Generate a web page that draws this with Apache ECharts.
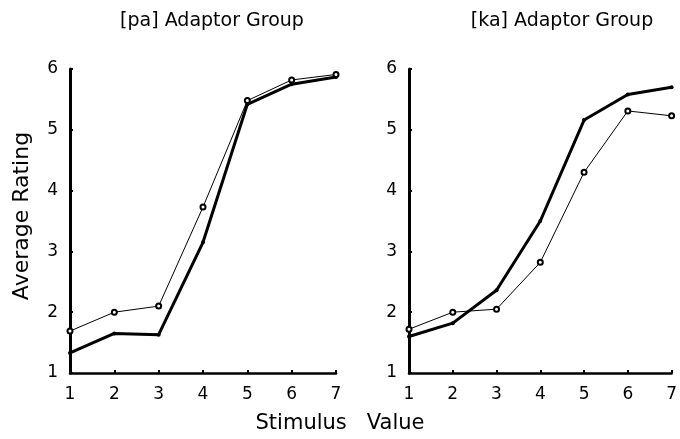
<!DOCTYPE html>
<html>
<head>
<meta charset="utf-8">
<script src="https://cdn.jsdelivr.net/npm/echarts@6/dist/echarts.min.js"></script>
<style>
  html, body { margin: 0; padding: 0; background: #fff; }
  #chart { width: 680px; height: 439px; }
</style>
</head>
<body>
<div id="chart"></div>
<script>
// stimulus values on the x axis
var stimulus = [1, 2, 3, 4, 5, 6, 7];
var yTicks = [1, 2, 3, 4, 5, 6];

// [pa] adaptor group
var paThick = [1.33, 1.65, 1.63, 3.15, 5.42, 5.75, 5.87];
var paThin = [1.69, 2.0, 2.1, 3.73, 5.48, 5.82, 5.91];

// [ka] adaptor group
var kaThick = [1.6, 1.82, 2.36, 3.5, 5.16, 5.58, 5.70];
var kaThin = [1.72, 2.0, 2.05, 2.82, 4.3, 5.31, 5.23];

function pairs(ys) {
    return stimulus.map(function (x, i) { return [x, ys[i]]; });
}

var fontFam = 'DejaVu Sans';
var myChart = echarts.init(document.getElementById('chart'));

function xAx(idx) {
    return {
        type: 'value', gridIndex: idx, min: 1, max: 7, interval: 1,
        axisLine: { lineStyle: { color: '#000', width: 2.5 } },
        axisTick: { show: true, length: 3, inside: true, lineStyle: { color: '#000', width: 2 } },
        axisLabel: { color: '#000', fontSize: 17, fontFamily: fontFam, margin: 13 },
        splitLine: { show: false }
    };
}
function yAx(idx) {
    return {
        type: 'value', gridIndex: idx, min: yTicks[0], max: yTicks[yTicks.length - 1], interval: 1,
        axisLine: { show: true, lineStyle: { color: '#000', width: 3 } },
        axisTick: { show: true, length: 3, inside: true, lineStyle: { color: '#000', width: 2 } },
        axisLabel: { color: '#000', fontSize: 17, fontFamily: fontFam, margin: 12 },
        splitLine: { show: false }
    };
}
function thick(idx, ys) {
    return {
        type: 'line', xAxisIndex: idx, yAxisIndex: idx, data: pairs(ys),
        symbol: 'circle', symbolSize: 4, z: 3,
        lineStyle: { color: '#000', width: 3 },
        itemStyle: { color: '#000' }
    };
}
function thin(idx, ys) {
    return {
        type: 'line', xAxisIndex: idx, yAxisIndex: idx, data: pairs(ys),
        symbol: 'emptyCircle', symbolSize: 5, z: 4,
        lineStyle: { color: '#000', width: 1 },
        itemStyle: { color: '#000', borderColor: '#000', borderWidth: 1 }
    };
}

var option = {
    animation: false,
    backgroundColor: '#fff',
    title: [
        { text: '[pa] Adaptor Group', left: 207, top: 7, textAlign: 'center',
          textStyle: { fontSize: 19, fontWeight: 'normal', color: '#000', fontFamily: fontFam } },
        { text: '[ka] Adaptor Group', left: 557, top: 7, textAlign: 'center',
          textStyle: { fontSize: 19, fontWeight: 'normal', color: '#000', fontFamily: fontFam } }
    ],
    grid: [
        { left: 70, top: 69, width: 266, height: 304 },
        { left: 409, top: 69, width: 268, height: 304 }
    ],
    xAxis: [xAx(0), xAx(1)],
    yAxis: [yAx(0), yAx(1)],
    series: [thin(0, paThin), thick(0, paThick), thin(1, kaThin), thick(1, kaThick)],
    graphic: [
        { type: 'text', x: 22, y: 216, rotation: Math.PI / 2,
          style: { text: 'Average Rating', fill: '#000', fontSize: 22, fontFamily: fontFam,
                   textAlign: 'center', textVerticalAlign: 'middle' } },
        { type: 'text', x: 340, y: 424,
          style: { text: 'Stimulus   Value', fill: '#000', fontSize: 21, fontFamily: fontFam,
                   textAlign: 'center', textVerticalAlign: 'middle' } }
    ]
};
myChart.setOption(option);
</script>
</body>
</html>
